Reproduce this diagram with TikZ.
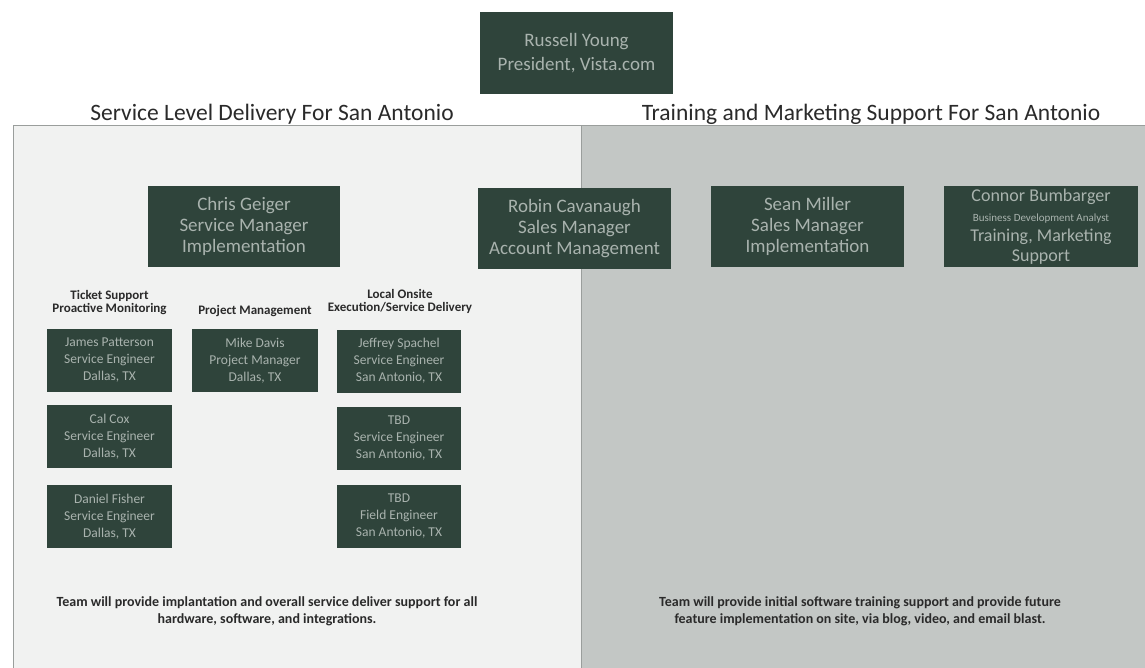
\documentclass[tikz,border=0pt]{standalone}
\usepackage{fontspec}
\setmainfont{Carlito}
\definecolor{boxgreen}{HTML}{2F443B}
\definecolor{boxtext}{HTML}{A9B3AE}
\definecolor{leftbg}{HTML}{F1F2F1}
\definecolor{rightbg}{HTML}{C3C7C5}
\definecolor{panelline}{HTML}{9A9E9C}
\definecolor{headtext}{HTML}{2A2A2A}
\tikzset{
  bigbox/.style={fill=boxgreen, text=boxtext, minimum width=193pt, minimum height=81pt, inner sep=1pt, align=center, font=\fontsize{19}{21}\selectfont},
  smallbox/.style={fill=boxgreen, text=boxtext, minimum width=125pt, minimum height=63pt, inner sep=1pt, align=center, font=\fontsize{13.5}{17}\selectfont},
  colhead/.style={text=headtext, align=center, font=\bfseries\fontsize{13}{13}\selectfont},
  sechead/.style={text=headtext, font=\fontsize{23.5}{26}\selectfont},
  note/.style={text=headtext, align=center, font=\bfseries\fontsize{14}{17}\selectfont}
}
\begin{document}
\begin{tikzpicture}[x=1pt,y=-1pt]
\useasboundingbox[fill=white] (0,0) rectangle (1145,667);
% panels
\path[fill=leftbg, draw=panelline, line width=1pt] (13,125) rectangle (581,672) coordinate (lp);
\path[fill=rightbg, draw=panelline, line width=1pt] (581,125) rectangle (1150,672) coordinate (rp);
% headings
\node[sechead] (h1) at (272,114) {Service Level Delivery For San Antonio};
\node[sechead] (h2) at (871,114) {Training and Marketing Support For San Antonio};
% top
\node[bigbox, minimum height=82pt, font=\fontsize{19}{24}\selectfont] (pres) at (576.5,53) {Russell Young\\President, Vista.com};
% managers
\node[bigbox, minimum width=192pt] (chris) at (244,226.5) {Chris Geiger\\Service Manager\\Implementation};
\node[bigbox] (robin) at (574.5,228.5) {Robin Cavanaugh\\Sales Manager\\Account Management};
\node[bigbox] (sean) at (807.5,226.5) {Sean Miller\\Sales Manager\\Implementation};
\node[bigbox, minimum width=194pt, font=\fontsize{18}{20}\selectfont] (connor) at (1041,226.5) {Connor Bumbarger\\{\fontsize{11}{14}\selectfont Business Development Analyst}\\Training, Marketing\\Support};
% column heads
\node[colhead] (c1) at (109.5,303) {Ticket Support\\Proactive Monitoring};
\node[colhead] (c2) at (255,311) {Project Management};
\node[colhead] (c3) at (400,301) {Local Onsite\\Execution/Service Delivery};
% small boxes
\node[smallbox] (t1) at (109.5,360.5) {James Patterson\\Service Engineer\\Dallas, TX};
\node[smallbox] (t2) at (109.5,436.5) {Cal Cox\\Service Engineer\\Dallas, TX};
\node[smallbox] (t3) at (109.5,516.5) {Daniel Fisher\\Service Engineer\\Dallas, TX};
\node[smallbox, minimum width=126pt] (p1) at (255,360.5) {Mike Davis\\Project Manager\\Dallas, TX};
\node[smallbox, minimum width=124pt] (l1) at (399,361) {Jeffrey Spachel\\Service Engineer\\San Antonio, TX};
\node[smallbox, minimum width=124pt] (l2) at (399,438) {TBD\\Service Engineer\\San Antonio, TX};
\node[smallbox, minimum width=124pt] (l3) at (399,516.5) {TBD\\Field Engineer\\San Antonio, TX};
% notes
\node[note] (n1) at (267,611) {Team will provide implantation and overall service deliver support for all\\hardware, software, and integrations.};
\node[note] (n2) at (860,611) {Team will provide initial software training support and provide future\\feature implementation on site, via blog, video, and email blast.};
\end{tikzpicture}
\end{document}
